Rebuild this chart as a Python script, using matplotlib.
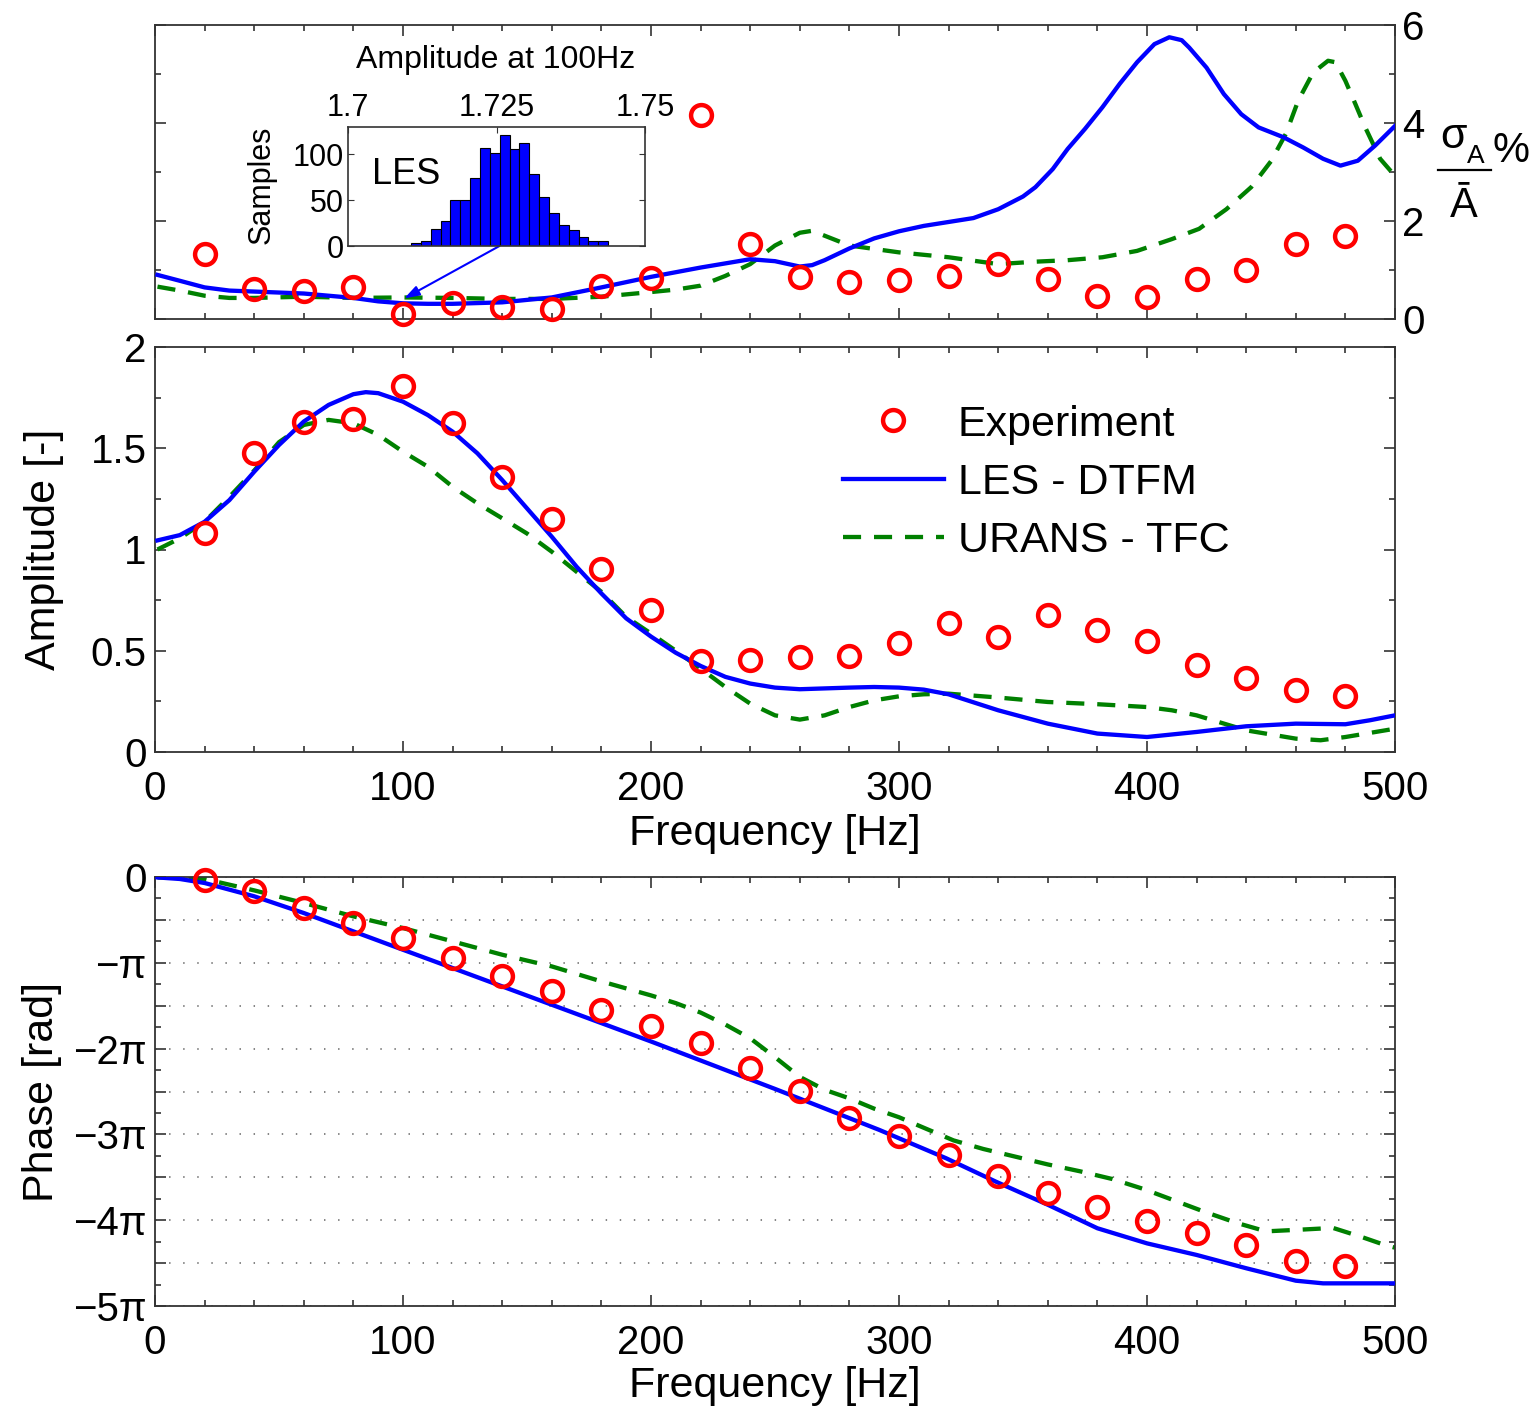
import numpy as np
import matplotlib
matplotlib.use("Agg")
import matplotlib.pyplot as plt
from matplotlib.ticker import MultipleLocator, FuncFormatter
from matplotlib.lines import Line2D

plt.rcParams['font.family'] = ['Liberation Sans', 'DejaVu Sans']

# ---------------- data ----------------
# experimental frequencies (Hz)
f_exp = [20, 40, 60, 80, 100, 120, 140, 160, 180, 200, 220, 240,
         260, 280, 300, 320, 340, 360, 380, 400, 420, 440, 460, 480]

# relative standard deviation sigma_A / A_mean  [%]
sig_exp = [1.33, 0.62, 0.58, 0.645, 0.10, 0.32, 0.24, 0.20, 0.68, 0.84, 4.16, 1.54,
           0.85, 0.75, 0.80, 0.88, 1.13, 0.82, 0.46, 0.44, 0.82, 1.00, 1.54, 1.70]

f_sig_les = [1, 10, 20, 30, 40, 50, 60, 70, 80, 90, 100, 110, 120, 140, 160, 180, 200,
             220, 240, 250, 260, 265, 270, 280, 290, 300, 310, 320, 330, 340, 350, 355,
             362, 368, 375, 382, 389, 396, 403, 409, 414, 417, 424, 431, 438, 445, 455,
             463, 471, 478, 485, 492, 500]
sig_les = [0.90, 0.78, 0.645, 0.58, 0.56, 0.54, 0.52, 0.475, 0.43, 0.36, 0.32, 0.31, 0.31,
           0.34, 0.44, 0.645, 0.86, 1.05, 1.22, 1.18, 1.07, 1.10, 1.20, 1.44, 1.645, 1.79,
           1.90, 1.98, 2.06, 2.24, 2.50, 2.69, 3.06, 3.47, 3.88, 4.32, 4.80, 5.24, 5.61,
           5.75, 5.69, 5.54, 5.13, 4.59, 4.18, 3.91, 3.71, 3.50, 3.27, 3.13, 3.23, 3.54, 3.94]

f_sig_urans = [1, 10, 20, 30, 40, 60, 80, 100, 120, 140, 160, 180, 200, 210, 220, 230,
               240, 250, 260, 265, 270, 280, 290, 300, 320, 340, 355, 368, 382, 396, 410,
               421, 432, 442, 450, 456, 461, 467, 473, 476, 480, 484, 488, 494, 500]
sig_urans = [0.66, 0.58, 0.475, 0.43, 0.43, 0.455, 0.43, 0.44, 0.43, 0.41, 0.41, 0.455,
             0.55, 0.60, 0.68, 0.88, 1.12, 1.50, 1.76, 1.80, 1.70, 1.50, 1.43, 1.36, 1.26,
             1.12, 1.17, 1.20, 1.26, 1.39, 1.63, 1.84, 2.24, 2.69, 3.22, 3.78, 4.46, 5.03,
             5.27, 5.24, 4.86, 4.39, 3.91, 3.27, 2.92]

# FTF amplitude [-]
amp_exp = [1.083, 1.475, 1.632, 1.645, 1.808, 1.623, 1.360, 1.150, 0.906, 0.700, 0.450, 0.456,
           0.470, 0.475, 0.539, 0.638, 0.569, 0.676, 0.603, 0.547, 0.428, 0.363, 0.305, 0.275]

f_amp_les = [1, 10, 20, 30, 40, 50, 60, 70, 80, 85, 90, 100, 110, 120, 130, 140, 150, 160,
             170, 180, 190, 200, 210, 220, 230, 240, 250, 260, 280, 290, 300, 310, 320, 340,
             360, 380, 400, 420, 440, 460, 480, 490, 500]
amp_les = [1.045, 1.071, 1.137, 1.244, 1.384, 1.516, 1.632, 1.714, 1.767, 1.777, 1.772, 1.730,
           1.664, 1.582, 1.475, 1.343, 1.203, 1.063, 0.915, 0.783, 0.660, 0.570, 0.490, 0.425,
           0.371, 0.338, 0.318, 0.310, 0.318, 0.321, 0.318, 0.308, 0.285, 0.206, 0.140, 0.091,
           0.074, 0.099, 0.127, 0.140, 0.137, 0.157, 0.181]

f_amp_urans = [1, 10, 20, 30, 40, 50, 60, 70, 80, 90, 100, 110, 120, 130, 140, 150, 160, 170,
               180, 190, 200, 210, 220, 230, 240, 250, 260, 270, 280, 290, 300, 310, 320, 340,
               360, 380, 400, 410, 420, 440, 460, 470, 480, 500]
amp_urans = [1.0, 1.055, 1.137, 1.26, 1.39, 1.53, 1.615, 1.64, 1.623, 1.566, 1.483, 1.409,
             1.31, 1.228, 1.154, 1.079, 0.989, 0.89, 0.791, 0.667, 0.585, 0.50, 0.412, 0.321,
             0.239, 0.181, 0.160, 0.181, 0.222, 0.255, 0.275, 0.285, 0.288, 0.269, 0.247, 0.236,
             0.222, 0.206, 0.181, 0.107, 0.066, 0.058, 0.074, 0.115]

# FTF phase, in multiples of pi
ph_exp = [-0.031, -0.167, -0.362, -0.537, -0.712, -0.945, -1.151, -1.334, -1.547, -1.734,
          -1.935, -2.226, -2.494, -2.809, -3.013, -3.239, -3.484, -3.686, -3.841, -4.009,
          -4.145, -4.289, -4.471, -4.533]

f_ph_les = [1, 10, 20, 40, 60, 80, 100, 120, 140, 160, 180, 200, 250, 292, 319, 339, 360,
            380, 400, 420, 440, 460, 471, 500]
ph_les = [-0.005, -0.023, -0.07, -0.225, -0.42, -0.634, -0.848, -1.061, -1.275, -1.489,
          -1.703, -1.917, -2.47, -2.947, -3.278, -3.55, -3.82, -4.094, -4.27, -4.405, -4.56,
          -4.705, -4.736, -4.736]

f_ph_urans = [1, 10, 20, 40, 60, 80, 100, 120, 140, 160, 180, 200, 210, 220, 230, 240, 250,
              260, 270, 280, 290, 300, 322, 334, 347, 360, 373, 386, 399, 411, 423, 436, 448,
              462, 475, 487, 496, 500]
ph_urans = [-0.005, -0.01, -0.023, -0.156, -0.303, -0.459, -0.595, -0.75, -0.906, -1.042,
            -1.217, -1.38, -1.47, -1.58, -1.72, -1.88, -2.10, -2.33, -2.48, -2.58, -2.70, -2.80,
            -3.07, -3.17, -3.26, -3.35, -3.43, -3.52, -3.64, -3.77, -3.90, -4.03, -4.13, -4.11,
            -4.09, -4.20, -4.29, -4.32]

# histogram of LES amplitude at 100 Hz
hist_counts = [3, 6, 19, 27, 50, 50, 74, 107, 102, 121, 106, 112, 79, 54, 36, 23, 17, 10, 5, 5]
hist_range = (1.7106, 1.7438)

labels = ['Experiment', 'LES - DTFM', 'URANS - TFC']

# ---------------- styles ----------------
W, H = 1538, 1410
RED, BLUE, GREEN = '#FF0000', '#0000FF', '#008000'
SPINE = '#333333'
exp_kw = dict(ls='none', marker='o', ms=15, mfc='none', mec=RED, mew=3.2, zorder=4)
les_kw = dict(color=BLUE, lw=3.1, zorder=3, solid_joinstyle='round')
urans_kw = dict(color=GREEN, lw=3.1, dashes=(4.2, 3.0), dash_capstyle='butt', zorder=2)
TICK_FS = 29
LABEL_FS = 31

fig = plt.figure(figsize=(W / 100, H / 100), dpi=100)


def rect(l, t, r, b):
    return [l / W, 1 - b / H, (r - l) / W, (b - t) / H]


def style_axes(ax):
    for s in ax.spines.values():
        s.set_color(SPINE)
        s.set_linewidth(1.3)
    ax.tick_params(which='both', direction='in', top=True, right=True,
                   color=SPINE, width=1.2, labelsize=TICK_FS)
    ax.tick_params(which='major', length=8)
    ax.tick_params(which='minor', length=4.5)


ax1 = fig.add_axes(rect(155, 25, 1395, 319))
ax2 = fig.add_axes(rect(155, 347, 1395, 752))
ax3 = fig.add_axes(rect(155, 877, 1395, 1306))

# ---- top: standard deviation ----
style_axes(ax1)
ax1.plot(f_sig_urans, sig_urans, **urans_kw)
ax1.plot(f_sig_les, sig_les, **les_kw)
ax1.plot(f_exp, sig_exp, clip_on=False, **exp_kw)
ax1.set_xlim(0, 500)
ax1.set_ylim(0, 6)
ax1.xaxis.set_major_locator(MultipleLocator(100))
ax1.xaxis.set_minor_locator(MultipleLocator(20))
ax1.yaxis.set_major_locator(MultipleLocator(2))
ax1.yaxis.set_minor_locator(MultipleLocator(1))
ax1.tick_params(labelbottom=False, labelleft=False, labelright=True, pad=5)

# right-hand label: sigma_A % over A-bar
fig.text(1440 / W, 1 - 148 / H, 'σ', fontsize=31, ha='left', va='baseline')
fig.text(1467 / W, 1 - 163 / H, 'A', fontsize=19, ha='left', va='baseline')
fig.text(1492 / W, 1 - 162 / H, '%', fontsize=30, ha='left', va='baseline')
fig.add_artist(Line2D([1438 / W, 1491 / W], [1 - 170 / H, 1 - 170 / H],
                      color='black', lw=1.6))
fig.text(1464 / W, 1 - 217 / H, 'Ā', fontsize=30, ha='center', va='baseline')

# ---- inset histogram ----
axh = fig.add_axes(rect(348, 127, 645, 246))
edges = np.linspace(hist_range[0], hist_range[1], len(hist_counts) + 1)
axh.bar(edges[:-1], hist_counts, width=np.diff(edges), align='edge',
        color=BLUE, edgecolor='black', linewidth=0.8)
axh.set_xlim(1.7, 1.75)
axh.set_ylim(0, 130)
for s in axh.spines.values():
    s.set_color(SPINE)
    s.set_linewidth(1.2)
axh.xaxis.tick_top()
axh.set_xticks([1.7, 1.725, 1.75])
axh.set_xticklabels(['1.7', '1.725', '1.75'])
axh.set_yticks([0, 50, 100])
axh.tick_params(direction='in', length=4, labelsize=22, right=True, top=True,
                color=SPINE, pad=3)
axh.text(0.08, 0.6, 'LES', transform=axh.transAxes, fontsize=26, ha='left', va='center')
fig.text(262 / W, 1 - 185 / H, 'Samples', fontsize=22, rotation=90,
         ha='center', va='center')
fig.text(496 / W, 1 - 60 / H, 'Amplitude at 100Hz', fontsize=23,
         ha='center', va='center')

ax1.annotate('', xy=(100.5, 0.42), xycoords=ax1.transData,
             xytext=(1.7255, 0), textcoords=axh.transData,
             arrowprops=dict(arrowstyle='-|>,head_length=0.9,head_width=0.3',
                             color=BLUE, lw=1.5, shrinkA=0, shrinkB=0),
             zorder=6)

# ---- middle: amplitude ----
style_axes(ax2)
h_urans, = ax2.plot(f_amp_urans, amp_urans, **urans_kw)
h_les, = ax2.plot(f_amp_les, amp_les, **les_kw)
h_exp, = ax2.plot(f_exp, amp_exp, **exp_kw)
ax2.set_xlim(0, 500)
ax2.set_ylim(0, 2)
ax2.xaxis.set_major_locator(MultipleLocator(100))
ax2.xaxis.set_minor_locator(MultipleLocator(20))
ax2.yaxis.set_major_locator(MultipleLocator(0.5))
ax2.yaxis.set_minor_locator(MultipleLocator(0.25))
ax2.yaxis.set_major_formatter(FuncFormatter(lambda v, p: f'{v:g}'))
ax2.tick_params(axis='x', pad=13)
ax2.tick_params(axis='y', pad=6)
ax2.set_xlabel('Frequency [Hz]', fontsize=LABEL_FS, labelpad=4)
ax2.set_ylabel('Amplitude [-]', fontsize=LABEL_FS, labelpad=19)
ax2.legend([h_exp, h_les, h_urans], labels, loc='upper left',
           bbox_to_anchor=(0.555, 0.858), frameon=False, fontsize=LABEL_FS,
           handlelength=2.33, handletextpad=0.33, labelspacing=0.42,
           borderpad=0, borderaxespad=0, numpoints=1)

# ---- bottom: phase ----
style_axes(ax3)
ax3.plot(f_ph_urans, np.array(ph_urans) * np.pi, **urans_kw)
ax3.plot(f_ph_les, np.array(ph_les) * np.pi, **les_kw)
ax3.plot(f_exp, np.array(ph_exp) * np.pi, clip_on=False, **exp_kw)
ax3.set_xlim(0, 500)
ax3.set_ylim(-5 * np.pi, 0)
ax3.xaxis.set_major_locator(MultipleLocator(100))
ax3.xaxis.set_minor_locator(MultipleLocator(20))
ax3.yaxis.set_major_locator(MultipleLocator(np.pi / 2))
ax3.yaxis.set_minor_locator(MultipleLocator(np.pi / 4))


def pi_fmt(v, pos):
    k = int(round(v / (np.pi / 2)))
    if k % 2:
        return ''
    n = -k // 2
    if n == 0:
        return '0'
    if n == 1:
        return '\u2212\u03c0'
    return f'\u2212{n}\u03c0'


ax3.yaxis.set_major_formatter(FuncFormatter(pi_fmt))
ax3.yaxis.grid(True, which='major', linestyle=(0, (0.8, 7)), color='#7a7a7a', lw=1.3)
ax3.set_axisbelow(True)
ax3.tick_params(axis='x', pad=13)
ax3.tick_params(axis='y', pad=6)
ax3.set_xlabel('Frequency [Hz]', fontsize=LABEL_FS, labelpad=3)
ax3.set_ylabel('Phase [rad]', fontsize=LABEL_FS, labelpad=8)

fig.savefig('out.png', dpi=100)
